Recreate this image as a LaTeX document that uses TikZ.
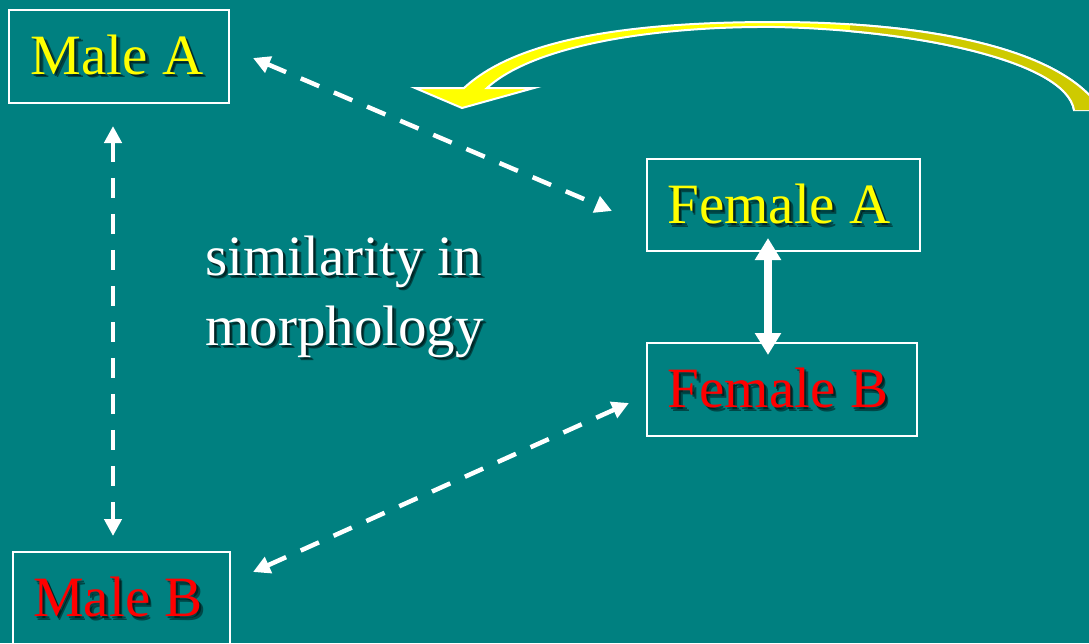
\documentclass[tikz,border=0pt]{standalone}
\usepackage{fontspec}
\setmainfont{Liberation Serif}
\usetikzlibrary{arrows.meta,calc}
\definecolor{bgteal}{RGB}{0,128,128}
\definecolor{arrowyellow}{RGB}{255,255,0}
\definecolor{arrowolive}{RGB}{206,202,0}
\definecolor{txtyellow}{RGB}{255,255,0}
\definecolor{txtred}{RGB}{255,0,0}
\tikzset{
  bigtxt/.style={font=\fontsize{57}{66}\selectfont, inner sep=0pt},
  boxnode/.style={draw=white, line width=2pt, inner sep=0pt, bigtxt},
  shadownode/.style={bigtxt, text=black, opacity=0.45},
  dasharrow/.style={white, line width=4.5pt, dash pattern=on 20pt off 16pt,
     {Triangle[length=17pt,width=17pt]}-{Triangle[length=17pt,width=17pt]}},
  solidarrow/.style={white, line width=7.5pt,
     {Triangle[length=22pt,width=25pt]}-{Triangle[length=22pt,width=25pt]}},
  curvefill/.style={draw=white, line width=2pt, line join=miter}
}
\begin{document}
\begin{tikzpicture}[x=1pt,y=-1pt]
\useasboundingbox (0,0) rectangle (1089,643);
\fill[bgteal] (0,0) rectangle (1089,643);
\begin{scope}
\clip (0,0) rectangle (1089,643);

% text shadows
\foreach \dx/\dy in {2/2,3.5/3.5}{
  \node[shadownode] (shmA) at (117+\dx,55+\dy) {Male A};
  \node[shadownode] (shfA) at (779+\dx,204+\dy) {Female A};
  \node[shadownode] (shfB) at (778+\dx,388+\dy) {Female B};
  \node[shadownode] (shmB) at (118+\dx,597+\dy) {Male B};
  \node[shadownode, anchor=base west] (shs1) at (205+\dx,275+\dy) {similarity in};
  \node[shadownode, anchor=base west] (shs2) at (205+\dx,345+\dy) {morphology};
}

% boxes
\node[boxnode, minimum width=220pt, minimum height=93pt, text=txtyellow] (mA) at (119,56.5) {};
\node[bigtxt, text=txtyellow] (tmA) at (117,55) {Male A};
\node[boxnode, minimum width=273pt, minimum height=92pt] (fA) at (783.5,205) {};
\node[bigtxt, text=txtyellow] (tfA) at (779,204) {Female A};
\node[boxnode, minimum width=270pt, minimum height=93pt] (fB) at (782,389.5) {};
\node[bigtxt, text=txtred] (tfB) at (778,388) {Female B};
\node[boxnode, minimum width=217pt, minimum height=93pt] (mB) at (121.5,598.5) {};
\node[bigtxt, text=txtred] (tmB) at (118,597) {Male B};

% middle text
\node[bigtxt, text=white, anchor=base west] (s1) at (205,275) {similarity in};
\node[bigtxt, text=white, anchor=base west] (s2) at (205,345) {morphology};

% connectors
\draw[dasharrow] ($(mA.east)+(23,1.5)$) -- ($(fA.west)+(-34,6)$);
\draw[dasharrow] ($(mA.south)+(-6,22)$) -- ($(mB.north)+(-8.5,-15)$);
\draw[dasharrow] ($(fB.west)+(-17,13.5)$) -- ($(mB.east)+(22,-26.5)$);
\draw[solidarrow] ($(fA.south)+(-15.5,-14)$) -- ($(fB.north)+(-14,13)$);

% curved yellow block arrow
\coordinate (cA) at (462,108);
\path[fill=arrowyellow, curvefill]
  (464,88) .. controls (522,34) and (650,22) .. (775,22)
  .. controls (905,22) and (1055,42) .. (1100,108)
  -- (1100,110) -- (1074,110)
  .. controls (1066,62) and (920,30) .. (775,27)
  .. controls (660,26) and (535,44) .. (487,88)
  -- (534,88) -- (cA) -- (415,88) -- cycle;
\begin{scope}
\clip (850,0) rectangle (1089,130);
\path[fill=arrowolive]
  (464,88) .. controls (522,34) and (650,22) .. (775,22)
  .. controls (905,22) and (1055,42) .. (1100,108)
  -- (1100,110) -- (1074,110)
  .. controls (1066,62) and (920,30) .. (775,27)
  .. controls (660,26) and (535,44) .. (487,88)
  -- (534,88) -- (cA) -- (415,88) -- cycle;
\draw[white, line width=2pt]
  (775,22) .. controls (905,22) and (1055,42) .. (1100,108);
\draw[white, line width=2pt]
  (1074,110) .. controls (1066,62) and (920,30) .. (775,27);
\end{scope}
\end{scope}
\end{tikzpicture}
\end{document}
